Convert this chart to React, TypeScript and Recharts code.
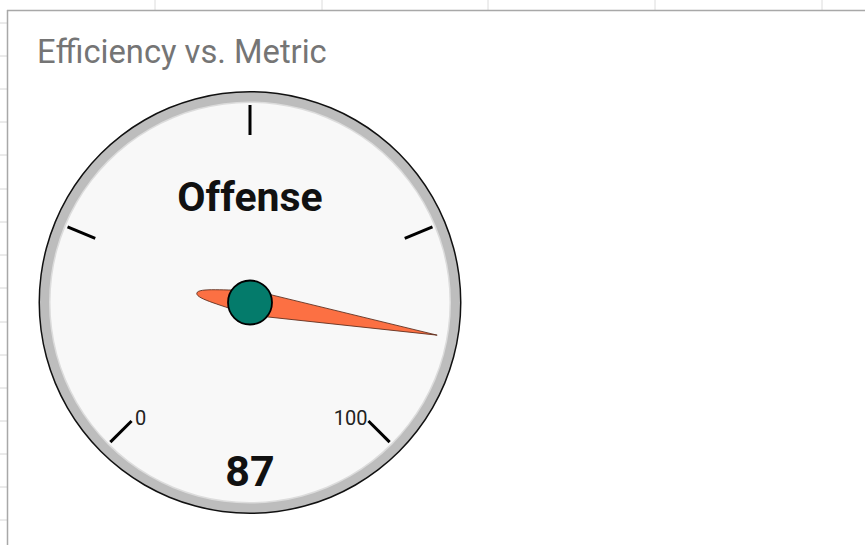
import { PieChart, Pie, RadialBarChart, RadialBar, PolarAngleAxis } from 'recharts';

// gauge data
const gaugeNames = ['Offense'];
const gaugeValues = [87];
const gaugeDomain = [0, 100];
const majorTicks = [0, 25, 50, 75, 100];
const labelledTicks = [0, 100];
const chartTitle = 'Efficiency vs. Metric';

const gaugeData = gaugeNames.map((name, i) => ({ name, value: gaugeValues[i] }));
const dialData = [{ name: 'dial', value: 1 }];

const W = 865;
const H = 545;
const CX = 250;
const CY = 302.5;
const noMargin = { top: 0, right: 0, bottom: 0, left: 0 };

const gridCols = [155, 322, 488, 655, 822];
const gridRows = [23, 56, 89, 122, 155, 189, 222, 255, 288, 322, 355, 388, 421, 454, 487, 520];

const renderTick = (props: any) => {
  const { x, y, payload } = props;
  const cx = props.cx ?? CX;
  const cy = props.cy ?? CY;
  const dx = x - cx;
  const dy = y - cy;
  const len = Math.hypot(dx, dy);
  const ux = dx / len;
  const uy = dy / len;
  const ix = cx + ux * (len - 30);
  const iy = cy + uy * (len - 30);
  const showLabel = labelledTicks.includes(payload.value);
  return (
    <g>
      <line x1={x} y1={y} x2={ix} y2={iy} stroke="#000" strokeWidth={3} />
      {showLabel && (
        <text
          x={dx < 0 ? ix + 3.5 : ix - 1}
          y={iy + 4.5}
          textAnchor={dx < 0 ? 'start' : 'end'}
          fontFamily="Roboto"
          fontSize={20}
          fill="#222"
        >
          {payload.value}
        </text>
      )}
    </g>
  );
};

const renderNeedle = (props: any) => {
  const cx = props.cx ?? CX;
  const cy = props.cy ?? CY;
  const angle = props.endAngle;
  const entry = props.payload ?? gaugeData[0];
  return (
    <g>
      <text x={cx} y={cy - 92} textAnchor="middle" fontFamily="Roboto" fontWeight="bold" fontSize={41} fill="#111">
        {entry.name}
      </text>
      <text x={cx} y={cy + 183} textAnchor="middle" fontFamily="Roboto" fontWeight="bold" fontSize={43} fill="#111">
        {entry.value}
      </text>
      <g transform={`translate(${cx},${cy}) rotate(${-angle})`}>
        <path
          d="M 190 0 L 0 12.5 C -25 7.5 -54 6 -54 0 C -54 -6 -25 -7.5 0 -12.5 Z"
          fill="#fc7043"
          stroke="#5a2a1a"
          strokeWidth={0.8}
        />
      </g>
      <circle cx={cx} cy={cy} r={22} fill="#047b6b" stroke="#000" strokeWidth={1.8} />
    </g>
  );
};

export default function App() {
  return (
    <div style={{ position: 'absolute', left: 0, top: 0, width: W, height: H, background: '#fff', overflow: 'hidden' }}>
      <svg width={W} height={H} style={{ position: 'absolute', left: 0, top: 0 }}>
        {gridCols.map((gx) => (
          <line key={gx} x1={gx} y1={0} x2={gx} y2={10} stroke="#dcdcdc" strokeWidth={1} />
        ))}
        {gridRows.map((gy) => (
          <line key={gy} x1={0} y1={gy} x2={7} y2={gy} stroke="#d6d6d6" strokeWidth={1} />
        ))}
        <line x1={7.5} y1={10} x2={7.5} y2={H} stroke="#a8a8a8" strokeWidth={1.5} />
        <line x1={7} y1={10.5} x2={W} y2={10.5} stroke="#a8a8a8" strokeWidth={1.5} />
        <text x={37} y={63} fontFamily="Roboto" fontSize={32.7} fill="#757575">
          {chartTitle}
        </text>
      </svg>
      <div style={{ position: 'absolute', left: 0, top: 0 }}>
        <PieChart width={W} height={H} margin={noMargin}>
          <Pie data={dialData} dataKey="value" cx={CX} cy={CY} innerRadius={0} outerRadius={211.5} startAngle={90} endAngle={-270} fill="#111" stroke="none" isAnimationActive={false} />
          <Pie data={dialData} dataKey="value" cx={CX} cy={CY} innerRadius={0} outerRadius={210} startAngle={90} endAngle={-270} fill="#bdbdbd" stroke="none" isAnimationActive={false} />
          <Pie data={dialData} dataKey="value" cx={CX} cy={CY} innerRadius={0} outerRadius={201} startAngle={90} endAngle={-270} fill="#dcdcdc" stroke="none" isAnimationActive={false} />
          <Pie data={dialData} dataKey="value" cx={CX} cy={CY} innerRadius={0} outerRadius={199.5} startAngle={90} endAngle={-270} fill="#f8f8f8" stroke="none" isAnimationActive={false} />
        </PieChart>
      </div>
      <div style={{ position: 'absolute', left: 0, top: 0 }}>
        <RadialBarChart
          width={W}
          height={H}
          margin={noMargin}
          cx={CX}
          cy={CY}
          innerRadius={0}
          outerRadius={190}
          startAngle={225}
          endAngle={-45}
          data={gaugeData}
        >
          <PolarAngleAxis
            type="number"
            domain={gaugeDomain}
            ticks={majorTicks}
            tick={renderTick}
            tickLine={false}
            axisLine={false}
            tickSize={7.5}
          />
          <RadialBar dataKey="value" isAnimationActive={false} shape={renderNeedle} />
        </RadialBarChart>
      </div>
    </div>
  );
}
